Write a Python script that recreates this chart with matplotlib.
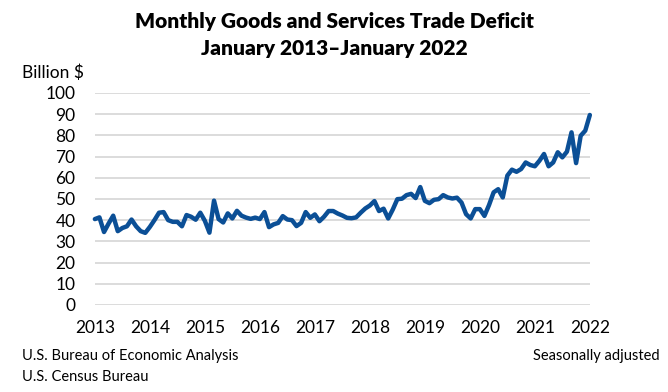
import numpy as np
import pandas as pd
import matplotlib
matplotlib.use('Agg')
import matplotlib.pyplot as plt

# Monthly trade deficit, billion $, Jan 2013 - Jan 2022
deficit_2013 = [40.5, 41.3, 34.4, 38.4, 42.1, 34.8, 36.3, 37.1, 40.3, 37.1, 34.8, 34.0]
deficit_2014 = [36.8, 40.0, 43.5, 43.8, 40.0, 39.2, 39.2, 37.1, 42.4, 41.6, 40.2, 43.5]
deficit_2015 = [39.7, 34.1, 49.2, 40.5, 38.9, 43.2, 40.8, 44.4, 42.1, 41.2, 40.6, 41.2]
deficit_2016 = [40.5, 43.8, 36.7, 38.0, 38.7, 41.9, 40.3, 40.0, 37.2, 38.7, 43.8, 41.1]
deficit_2017 = [42.7, 39.5, 41.6, 44.3, 44.3, 43.1, 42.2, 41.1, 40.9, 41.3, 43.5, 45.5]
deficit_2018 = [46.9, 49.0, 44.3, 45.4, 40.8, 45.0, 49.9, 50.1, 51.8, 52.4, 50.4, 55.6]
deficit_2019 = [49.1, 48.0, 49.6, 49.9, 51.8, 50.7, 50.2, 50.6, 48.3, 42.8, 40.8, 45.2]
deficit_2020 = [45.2, 42.0, 47.1, 53.1, 54.6, 50.7, 61.0, 63.8, 62.8, 64.1, 67.2, 66.0]
deficit_2021 = [65.4, 68.0, 71.2, 65.4, 67.2, 72.0, 69.6, 72.3, 81.4, 66.9, 79.8, 82.2]
deficit_2022 = [89.6]

values = (deficit_2013 + deficit_2014 + deficit_2015 + deficit_2016 + deficit_2017
          + deficit_2018 + deficit_2019 + deficit_2020 + deficit_2021 + deficit_2022)
months = pd.date_range('2013-01-01', periods=len(values), freq='MS')
# fractional year positions so that Jan of each year sits on its tick
x = months.year + (months.month - 1) / 12

year_ticks = list(range(2013, 2023))
y_ticks = list(range(0, 101, 10))

plt.rcParams['font.family'] = ['Lato', 'DejaVu Sans']

fig = plt.figure(figsize=(6.68, 3.92), dpi=100)
ax = fig.add_axes([0.142, 0.222, 0.741, 0.541])

ax.plot(x, values, color='#0b4f96', linewidth=3.2, solid_joinstyle='round',
        solid_capstyle='round', zorder=3, clip_on=False)

ax.set_xlim(2013, 2022)
ax.set_ylim(0, 100)
ax.set_xticks(year_ticks)
ax.set_xticklabels([str(y) for y in year_ticks])
ax.set_yticks(y_ticks)
ax.grid(axis='y', color='#d9d9d9', linewidth=1.3, zorder=0)
ax.tick_params(axis='both', length=0, labelsize=12.5, colors='black')
ax.tick_params(axis='y', pad=14)
ax.tick_params(axis='x', pad=11)
for s in ax.spines.values():
    s.set_visible(False)

fig.text(0.5, 0.945, 'Monthly Goods and Services Trade Deficit',
         ha='center', va='center', fontsize=15, fontweight='heavy')
fig.text(0.5, 0.877, 'January 2013\u2013January 2022',
         ha='center', va='center', fontsize=15, fontweight='heavy')
fig.text(0.033, 0.815, 'Billion $', ha='left', va='center', fontsize=12.5)

fig.text(0.033, 0.093, 'U.S. Bureau of Economic Analysis', ha='left', va='center', fontsize=10.5)
fig.text(0.033, 0.038, 'U.S. Census Bureau', ha='left', va='center', fontsize=10.5)
fig.text(0.988, 0.093, 'Seasonally adjusted', ha='right', va='center', fontsize=10.5)

fig.savefig('out.png', dpi=100)
